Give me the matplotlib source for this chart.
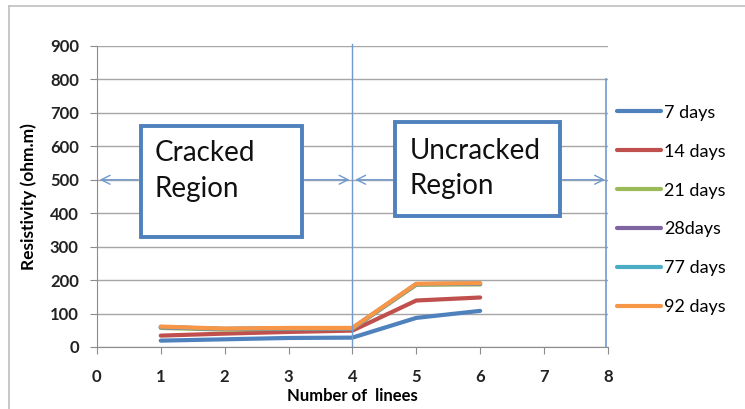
import matplotlib
matplotlib.use("Agg")
import matplotlib.pyplot as plt
from matplotlib.lines import Line2D
from matplotlib.patches import Rectangle

plt.rcParams['font.family'] = ['Lato', 'DejaVu Sans']

lines_count = [1, 2, 3, 4, 5, 6]
series_names = ['7 days', '14 days', '21 days', '28days', '77 days', '92 days']
res_7 = [19, 23, 27, 28, 87, 108]
res_14 = [34, 40, 45, 49, 139, 148]
res_21 = [57, 52, 55, 55, 186, 187]
res_28 = [59, 54, 56, 56, 188, 189]
res_77 = [60, 54, 56, 56, 188, 190]
res_92 = [61, 55, 57, 57, 189, 191]
colors = ['#4F81BD', '#C0504D', '#9BBB59', '#8064A2', '#4BACC6', '#F79646']
y_ticks = [0, 100, 200, 300, 400, 500, 600, 700, 800, 900]
x_ticks = [0, 1, 2, 3, 4, 5, 6, 7, 8]

fig = plt.figure(figsize=(7.45, 4.09), dpi=100)
ax = fig.add_axes([0.130, 0.1516, 0.686, 0.736])

all_series = [res_7, res_14, res_21, res_28, res_77, res_92]
for vals, name, c in zip(all_series, series_names, colors):
    ax.plot(lines_count, vals, color=c, lw=3, label=name, solid_capstyle='round')

ax.set_xlim(0, 8)
ax.set_ylim(0, 900)
ax.set_xticks(x_ticks)
ax.set_yticks(y_ticks)
ax.grid(axis='y', color='#A6A6A6', lw=1)
ax.set_axisbelow(True)
for s in ['top', 'right']:
    ax.spines[s].set_visible(False)
for s in ['left', 'bottom']:
    ax.spines[s].set_color('#8C8C8C')
ax.tick_params(axis='both', direction='out', length=5, color='#8C8C8C',
               labelsize=12, labelcolor='#222222')
ax.tick_params(axis='x', pad=11)
ax.tick_params(axis='y', pad=8)
for lab in ax.get_xticklabels() + ax.get_yticklabels():
    lab.set_fontweight('bold')

ax.set_ylabel('Resistivity (ohm.m)', fontsize=12.5, fontweight='bold', labelpad=9)
ax.set_xlabel('Number of  linees', fontsize=12, fontweight='bold', labelpad=2)

# region dividers
box_blue = '#4F81BD'
thin_blue = '#6F99CF'
ax.plot([4, 4], [0, 905], color=thin_blue, lw=1, clip_on=False)
ax.plot([7.97, 7.97], [0, 800], color=thin_blue, lw=1.2, clip_on=False)

# region arrows at 500
arrow_kw = dict(arrowstyle='->', color=thin_blue, lw=1, mutation_scale=16)
ax.annotate('', xy=(0, 500), xytext=(0.69, 500), arrowprops=arrow_kw)
ax.annotate('', xy=(4, 500), xytext=(3.21, 500), arrowprops=arrow_kw)
ax.annotate('', xy=(4, 500), xytext=(4.67, 500), arrowprops=arrow_kw)
ax.annotate('', xy=(8, 500), xytext=(7.25, 500), arrowprops=arrow_kw, annotation_clip=False)

# region labels
ax.add_patch(Rectangle((0.69, 329), 2.52, 332, facecolor='white', edgecolor=box_blue, lw=2.8, zorder=5))
ax.text(0.90, 618, 'Cracked\nRegion', fontsize=20, va='top', ha='left',
        linespacing=1.45, color='#111111', zorder=6)
ax.add_patch(Rectangle((4.67, 392), 2.58, 281, facecolor='white', edgecolor=box_blue, lw=2.8, zorder=5))
ax.text(4.90, 624, 'Uncracked\nRegion', fontsize=20, va='top', ha='left',
        linespacing=1.4, color='#111111', zorder=6)

ax.legend(loc='upper left', bbox_to_anchor=(1.0, 0.835), frameon=False,
          fontsize=13, labelspacing=1.27, handlelength=2.45, handletextpad=0.15,
          borderaxespad=0.1, borderpad=0.4)

# chart frame
fig.add_artist(Line2D([0.012, 1.0], [0.985, 0.985], color='#BFBFBF', lw=1.2))
fig.add_artist(Line2D([0.012, 0.012], [0.0, 0.985], color='#BFBFBF', lw=1.2))

fig.savefig('out.png', dpi=100)
